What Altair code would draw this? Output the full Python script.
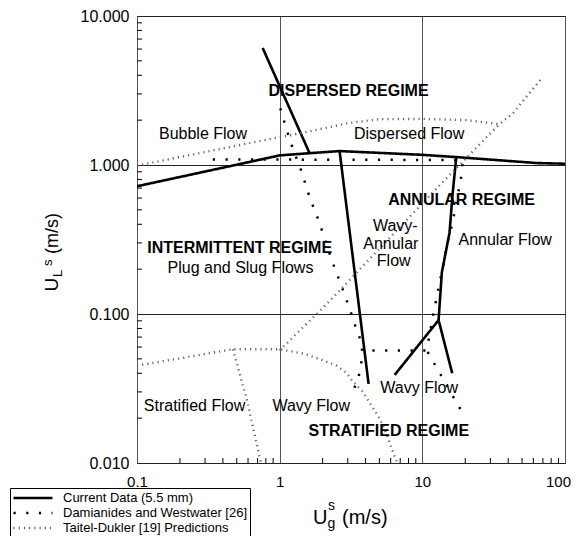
import altair as alt
import pandas as pd

FONT = "Liberation Sans"

# ---------------- data ----------------
series_names = ["Current Data (5.5 mm)",
                "Damianides and Westwater [26]",
                "Taitel-Dukler [19] Predictions"]

# Current data (solid)
cur1_x = [0.1, 1.0, 1.62, 2.63, 10.0, 17.3, 64.0, 100.0]
cur1_y = [0.72, 1.16, 1.20, 1.24, 1.17, 1.13, 1.03, 1.02]
cur2_x = [0.76, 1.62]
cur2_y = [6.1, 1.20]
cur3_x = [2.63, 4.2]
cur3_y = [1.24, 0.034]
cur4_x = [17.3, 16.3, 15.5, 13.7, 13.0]
cur4_y = [1.13, 0.64, 0.35, 0.19, 0.091]
cur5_x = [6.4, 13.0, 16.2]
cur5_y = [0.039, 0.091, 0.040]

# Damianides and Westwater (sparse dots)
dam1_x = [0.34, 19.2, 18.9, 18.2, 16.8, 16.1, 15.3, 14.1, 13.0, 12.0, 11.1, 10.6, 4.0]
dam1_y = [1.09, 1.08, 0.87, 0.72, 0.48, 0.39, 0.33, 0.22, 0.150, 0.102, 0.068, 0.057, 0.057]
dam2_x = [1.01, 1.14, 1.22, 1.42, 1.62, 1.90, 2.32, 2.70, 3.12, 3.33, 3.58, 3.79, 3.73, 3.57, 3.30]
dam2_y = [2.4, 1.63, 1.34, 0.91, 0.61, 0.41, 0.229, 0.156, 0.106, 0.087, 0.073, 0.060, 0.0465, 0.0376, 0.031]
dam3_x = [10.9, 12.2, 13.7, 17.3, 19.5]
dam3_y = [0.0556, 0.046, 0.038, 0.0256, 0.0211]

# Taitel-Dukler predictions (fine dots)
tai1_x = [0.1, 1.0, 1.17, 1.71, 2.93, 5.0, 10.1, 20.3, 34.7, 43.0, 54.7, 67.9]
tai1_y = [0.99, 1.54, 1.58, 1.70, 1.90, 2.03, 2.04, 2.0, 1.88, 2.21, 2.94, 3.76]
tai2_x = [1.0, 2.2, 14.3, 19.7, 34.7]
tai2_y = [0.057, 0.12, 0.79, 1.08, 1.88]
tai3_x = [0.1, 0.47, 1.0, 1.5, 2.0, 2.5, 2.96, 3.2, 3.83, 4.1, 4.7, 5.0, 5.6, 6.4, 6.7]
tai3_y = [0.045, 0.058, 0.058, 0.054, 0.049, 0.045, 0.040, 0.036, 0.030, 0.027, 0.022, 0.020, 0.0157, 0.011, 0.010]
tai4_x = [0.47, 0.51, 0.547, 0.583, 0.649, 0.723, 0.74]
tai4_y = [0.058, 0.044, 0.034, 0.0277, 0.0175, 0.011, 0.010]

# region labels
reg_text = ["Bubble Flow", "Dispersed Flow", "Wavy-", "Annular", "Flow", "Annular Flow",
            "Plug and Slug Flows", "Stratified Flow", "Wavy Flow", "Wavy Flow"]
reg_x = [0.290, 8.08, 6.46, 6.01, 6.30, 38.07, 0.531, 0.253, 1.665, 9.50]
reg_y = [1.607, 1.607, 0.388, 0.296, 0.226, 0.3124, 0.203, 0.0240, 0.0240, 0.0317]

bold_text = ["DISPERSED REGIME", "ANNULAR REGIME", "INTERMITTENT REGIME", "STRATIFIED REGIME"]
bold_x = [3.04, 18.84, 0.524, 5.82]
bold_y = [3.12, 0.579, 0.278, 0.01633]

# axis ticks
x_major = [0.1, 1, 10, 100]
y_major = [0.01, 0.1, 1, 10]
x_minor = [0.2, 0.3, 0.4, 0.5, 0.6, 0.7, 0.8, 0.9,
           2, 3, 4, 5, 6, 7, 8, 9,
           20, 30, 40, 50, 60, 70, 80, 90]
y_minor = [0.02, 0.03, 0.04, 0.05, 0.06, 0.07, 0.08, 0.09,
           0.2, 0.3, 0.4, 0.5, 0.6, 0.7, 0.8, 0.9,
           2, 3, 4, 5, 6, 7, 8, 9]

# ---------------- build tables ----------------
rows = []
def add(series, seg, xs, ys):
    for i, (a, b) in enumerate(zip(xs, ys)):
        rows.append({"series": series, "seg": seg, "i": i, "x": a, "y": b})

add(series_names[0], "c1", cur1_x, cur1_y)
add(series_names[0], "c2", cur2_x, cur2_y)
add(series_names[0], "c3", cur3_x, cur3_y)
add(series_names[0], "c4", cur4_x, cur4_y)
add(series_names[0], "c5", cur5_x, cur5_y)
add(series_names[1], "d1", dam1_x, dam1_y)
add(series_names[1], "d2", dam2_x, dam2_y)
add(series_names[1], "d3", dam3_x, dam3_y)
add(series_names[2], "t1", tai1_x, tai1_y)
add(series_names[2], "t2", tai2_x, tai2_y)
add(series_names[2], "t3", tai3_x, tai3_y)
add(series_names[2], "t4", tai4_x, tai4_y)
lines_df = pd.DataFrame(rows)

reg_df = pd.DataFrame({"t": reg_text, "x": reg_x, "y": reg_y})
bold_df = pd.DataFrame({"t": bold_text, "x": bold_x, "y": bold_y})
xt_df = pd.DataFrame({"x": x_minor})
yt_df = pd.DataFrame({"y": y_minor})

W, H = 428, 447
xscale = alt.Scale(type="log", domain=[0.1, 100], nice=False)
yscale = alt.Scale(type="log", domain=[0.01, 10], nice=False)

leg = alt.Legend(orient="none", legendX=-127, legendY=472, title=None,
                 symbolType="M-3,0H3", symbolSize=169, symbolOffset=13,
                 labelOffset=22, labelFont=FONT, labelFontSize=13, labelColor="black",
                 labelLimit=0, rowPadding=0, padding=2,
                 strokeColor="black", fillColor="white")

xaxis = alt.Axis(values=x_major, format="~g", title=None, grid=True, ticks=False,
                 domain=False, labelFont=FONT, labelFontSize=15, labelColor="black",
                 labelPadding=11, labelFlush=False, labelOverlap=False,
                 labelOffset={"condition": {"test": "datum.value == 100", "value": -7}, "value": 0},
                 gridColor="#555555", gridWidth=1, gridOpacity=1)
yaxis = alt.Axis(values=y_major, format=".3f", title=None, grid=True, ticks=False,
                 domain=False, labelFont=FONT, labelFontSize=16, labelColor="black",
                 labelPadding=8, labelFlush=False, labelOverlap=False,
                 gridColor="#222222", gridWidth=1, gridOpacity=1)

X = alt.X("x:Q", scale=xscale, axis=xaxis)
Y = alt.Y("y:Q", scale=yscale, axis=yaxis)

lines = alt.Chart(lines_df).mark_line(clip=True).encode(
    x=X, y=Y,
    detail="seg:N",
    order="i:Q",
    color=alt.Color("series:N", scale=alt.Scale(domain=series_names,
                    range=["#000000", "#000000", "#666666"]), legend=leg),
    strokeDash=alt.StrokeDash("series:N", scale=alt.Scale(domain=series_names,
                    range=[[1, 0], [2.2, 10.5], [1.2, 4.0]]), legend=leg),
    strokeWidth=alt.StrokeWidth("series:N", scale=alt.Scale(domain=series_names,
                    range=[2.6, 2.4, 1.1]), legend=leg),
)

tick_x = alt.Chart(xt_df).mark_rule(color="black", strokeWidth=1).encode(
    x=X, y=alt.value(H), y2=alt.value(H - 5))
tick_y = alt.Chart(yt_df).mark_rule(color="black", strokeWidth=1).encode(
    y=Y, x=alt.value(0), x2=alt.value(5))

reg = alt.Chart(reg_df).mark_text(font=FONT, fontSize=16, color="black",
                                  align="center", baseline="middle").encode(
    x=X, y=Y, text="t:N")
bold = alt.Chart(bold_df).mark_text(font=FONT, fontSize=16, fontWeight="bold", color="black",
                                    align="center", baseline="middle").encode(
    x=X, y=Y, text="t:N")

one = pd.DataFrame({"k": [0]})
def label(txt, px, py, size, angle=0):
    kw = dict(text=txt, font=FONT, fontSize=size, color="black",
              align="left", baseline="alphabetic")
    if angle:
        kw["angle"] = angle
    return alt.Chart(one).mark_text(**kw).encode(x=alt.value(px), y=alt.value(py))

titles = [
    label("U", 176, 508, 20),
    label("g", 190.5, 512, 14),
    label("s", 191, 494, 14),
    label("(m/s)", 205, 508, 20),
    label("U", -79.5, 275.5, 19, 270),
    label("L", -75, 261, 13, 270),
    label("s", -85, 250, 13, 270),
    label("(m/s)", -79.5, 238, 18, 270),
]

chart = alt.layer(lines, tick_x, tick_y, reg, bold, *titles).properties(
    width=W, height=H,
    autosize=alt.AutoSizeParams(type="none"),
    padding={"left": 129, "top": 8, "right": 6, "bottom": 73},
    background="white",
).configure_view(stroke="black", strokeWidth=1)

chart.save("out.html", embed_options={"renderer": "svg", "actions": False})
